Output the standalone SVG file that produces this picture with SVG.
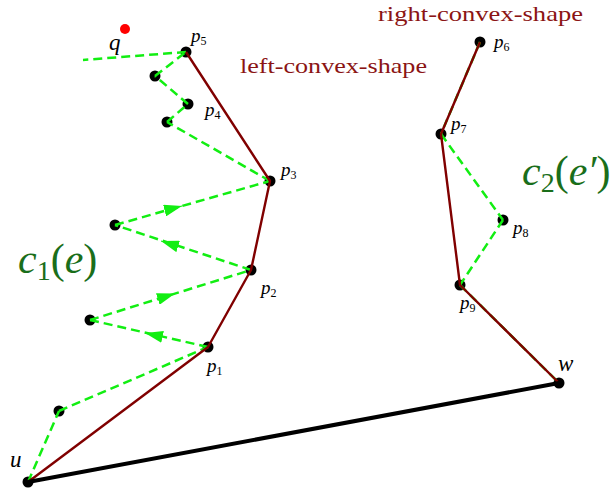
<svg xmlns="http://www.w3.org/2000/svg" width="613" height="494" viewBox="0 0 613 494">
<style>
.dot{fill:#000}
.lbl{font-family:"Liberation Serif",serif;font-size:19px;font-style:italic;fill:#000}
.lg{font-size:23px}
.sub{font-size:12px;font-style:normal}
.big{font-family:"Liberation Serif",serif;font-size:42px;fill:#1a6e1a}
.cap{font-family:"Liberation Serif",serif;font-size:22px;fill:#8b1414}
.g{stroke:#12ee12;stroke-width:2.5;stroke-dasharray:9 5;fill:none}
.r{stroke:#800000;stroke-width:2.4;fill:none;stroke-linejoin:round}
.k{stroke:#000;stroke-width:4;stroke-linecap:round}
.ah{stroke:#12ee12;stroke-width:1;fill:none;marker-end:url(#arr)}
</style>
<defs>
<marker id="arr" viewBox="0 0 18 12" refX="18" refY="6" markerWidth="18" markerHeight="12" markerUnits="userSpaceOnUse" orient="auto">
<path d="M0,0 L18,6 L0,12 z" fill="#12ee12"/>
</marker>
</defs>
<rect width="613" height="494" fill="#fff"/>

<g id="u"><circle class="dot" cx="28" cy="482" r="5.5"/><text class="lbl lg" x="10" y="467">u</text></g>
<g id="a"><circle class="dot" cx="59" cy="411" r="5.5"/></g>
<g id="p1"><circle class="dot" cx="208" cy="347" r="5.5"/><text class="lbl" x="207" y="372">p<tspan class="sub" dy="3">1</tspan></text></g>
<g id="b"><circle class="dot" cx="90" cy="320" r="5.5"/></g>
<g id="p2"><circle class="dot" cx="251" cy="270" r="5.5"/><text class="lbl" x="261" y="294">p<tspan class="sub" dy="3">2</tspan></text></g>
<g id="c"><circle class="dot" cx="115" cy="225" r="5.5"/></g>
<g id="p3"><circle class="dot" cx="270" cy="181" r="5.5"/><text class="lbl" x="281" y="176">p<tspan class="sub" dy="3">3</tspan></text></g>
<g id="d"><circle class="dot" cx="167" cy="122" r="5.5"/></g>
<g id="p4"><circle class="dot" cx="188" cy="104" r="5.5"/><text class="lbl" x="205" y="116">p<tspan class="sub" dy="3">4</tspan></text></g>
<g id="e"><circle class="dot" cx="155" cy="76" r="5.5"/></g>
<g id="p5"><circle class="dot" cx="186" cy="52" r="5.5"/><text class="lbl" x="191" y="42">p<tspan class="sub" dy="3">5</tspan></text></g>
<g id="q"><circle cx="125" cy="29" r="5" fill="#f00"/><text class="lbl lg" x="109" y="50">q</text></g>
<g id="p6"><circle class="dot" cx="480" cy="42" r="5.5"/><text class="lbl" x="494" y="48">p<tspan class="sub" dy="3">6</tspan></text></g>
<g id="p7"><circle class="dot" cx="441" cy="134" r="5.5"/><text class="lbl" x="451" y="130">p<tspan class="sub" dy="3">7</tspan></text></g>
<g id="p8"><circle class="dot" cx="503" cy="220" r="5.5"/><text class="lbl" x="513" y="234">p<tspan class="sub" dy="3">8</tspan></text></g>
<g id="p9"><circle class="dot" cx="460" cy="285" r="5.5"/><text class="lbl" x="460" y="309">p<tspan class="sub" dy="3">9</tspan></text></g>
<g id="w"><circle class="dot" cx="559" cy="383" r="5.5"/><text class="lbl lg" x="558" y="371">w</text></g>

<g id="connectors">
<line class="g" x1="28" y1="482" x2="59" y2="411"/>
<line class="g" x1="59" y1="411" x2="208" y2="347"/>
<line class="g" x1="208" y1="347" x2="90" y2="320"/>
<line class="g" x1="90" y1="320" x2="251" y2="270"/>
<line class="g" x1="251" y1="270" x2="115" y2="225"/>
<line class="g" x1="115" y1="225" x2="270" y2="181"/>
<line class="g" x1="270" y1="181" x2="167" y2="122"/>
<line class="g" x1="167" y1="122" x2="188" y2="104"/>
<line class="g" x1="188" y1="104" x2="155" y2="76"/>
<line class="g" x1="155" y1="76" x2="186" y2="52"/>
<line class="g" x1="186" y1="52" x2="83" y2="60"/>
<line class="g" x1="480" y1="42" x2="441" y2="134"/>
<line class="g" x1="441" y1="134" x2="503" y2="220"/>
<line class="g" x1="503" y1="220" x2="460" y2="285"/>
<line class="g" x1="460" y1="285" x2="559" y2="383"/>
<path class="ah" d="M147,333.45 L145,333"/>
<path class="ah" d="M173.1,294.2 L175,293.6"/>
<path class="ah" d="M162.9,241.6 L161,241"/>
<path class="ah" d="M180.1,206.5 L182,206"/>
<polyline class="r" points="28,482 208,347 251,270 270,181 186,52"/>
<polyline class="r" points="480,42 441,134 460,285 559,383"/>
<line class="k" x1="28" y1="482" x2="559" y2="383"/>
</g>

<text class="cap" x="240" y="73" textLength="187" lengthAdjust="spacingAndGlyphs">left-convex-shape</text>
<text class="cap" x="378" y="21" textLength="205" lengthAdjust="spacingAndGlyphs">right-convex-shape</text>
<text class="big" x="18" y="273"><tspan font-style="italic">c</tspan><tspan font-size="28" dy="7">1</tspan><tspan dy="-7">(</tspan><tspan font-style="italic">e</tspan>)</text>
<text class="big" x="522" y="185"><tspan font-style="italic">c</tspan><tspan font-size="28" dy="7">2</tspan><tspan dy="-7">(</tspan><tspan font-style="italic">e′</tspan>)</text>
</svg>
